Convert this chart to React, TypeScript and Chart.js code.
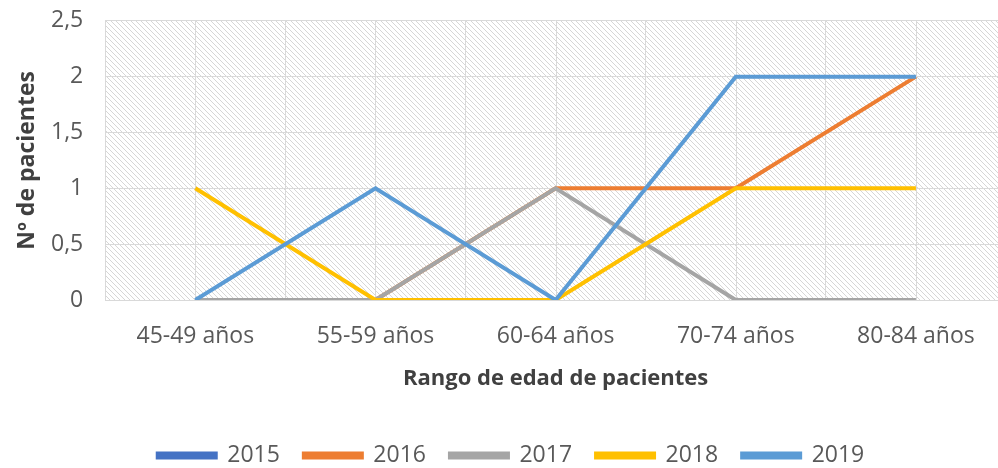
import React, { useEffect, useRef } from "react";
import { Chart, registerables } from "chart.js";

Chart.register(...registerables);

const categories = ["45-49 años", "55-59 años", "60-64 años", "70-74 años", "80-84 años"];
const series2015: (number | null)[] = [null, null, null, null, null];
const series2016 = [0, 0, 1, 1, 2];
const series2017 = [0, 0, 1, 0, 0];
const series2018 = [1, 0, 0, 1, 1];
const series2019 = [0, 1, 0, 2, 2];
const seriesNames = ["2015", "2016", "2017", "2018", "2019"];
const seriesColors = ["#4472C4", "#ED7D31", "#A5A5A5", "#FFC000", "#5B9BD5"];

const FONT = "'Open Sans', 'Noto Sans', sans-serif";

function makePattern(ctx: CanvasRenderingContext2D) {
  const c = document.createElement("canvas");
  c.width = 5;
  c.height = 5;
  const p = c.getContext("2d")!;
  p.fillStyle = "#ffffff";
  p.fillRect(0, 0, 5, 5);
  p.strokeStyle = "#d6d6d6";
  p.lineWidth = 1;
  p.beginPath();
  p.moveTo(-1, -1);
  p.lineTo(6, 6);
  p.moveTo(-1, 4);
  p.lineTo(1, 6);
  p.moveTo(4, -1);
  p.lineTo(6, 1);
  p.stroke();
  return ctx.createPattern(c, "repeat");
}

const backgroundPlugin = {
  id: "hatchBg",
  beforeDraw(chart: any) {
    const { ctx, chartArea, scales } = chart;
    ctx.save();
    const pat = makePattern(ctx);
    if (pat) {
      ctx.fillStyle = pat;
      ctx.fillRect(chartArea.left, chartArea.top, chartArea.right - chartArea.left, chartArea.bottom - chartArea.top);
    }
    ctx.strokeStyle = "#d9d9d9";
    ctx.lineWidth = 1;
    const xs = scales.x;
    for (let i = 0; i < categories.length; i++) {
      const px = Math.round(xs.getPixelForValue(i)) + 0.5;
      ctx.beginPath();
      ctx.moveTo(px, chartArea.top);
      ctx.lineTo(px, chartArea.bottom);
      ctx.stroke();
    }
    ctx.restore();
  },
};

const CANVAS_W = 1016;
const CANVAS_H = 487;
const CANVAS_TOP = -15;

export default function App() {
  const ref = useRef<HTMLCanvasElement>(null);
  useEffect(() => {
    const data = [series2015, series2016, series2017, series2018, series2019];
    const chart = new Chart(ref.current!, {
      type: "line",
      data: {
        labels: categories,
        datasets: data.map((d, i) => ({
          label: seriesNames[i],
          data: d,
          order: data.length - 1 - i,
          borderColor: seriesColors[i],
          backgroundColor: seriesColors[i],
          borderWidth: 4,
          pointRadius: 0,
          tension: 0,
        })),
      },
      options: {
        responsive: false,
        animation: false,
        layout: { padding: { top: 0, right: 10, left: 16, bottom: -5 } },
        plugins: {
          tooltip: { enabled: false },
          legend: {
            position: "bottom",
            labels: {
              boxWidth: 58,
              boxHeight: 4,
              padding: 24,
              color: "#595959",
              font: { family: FONT, size: 23 },
              sort: (a: any, b: any) => a.datasetIndex - b.datasetIndex,
            },
          },
        },
        scales: {
          x: {
            offset: true,
            grid: { offset: true, color: "#d9d9d9", drawTicks: false },
            border: { color: "#d9d9d9" },
            ticks: { color: "#595959", font: { family: FONT, size: 23 }, padding: 23 },
            title: {
              display: true,
              text: "Rango de edad de pacientes",
              color: "#404040",
              font: { family: FONT, size: 22, weight: "bold" },
              padding: { top: -8, bottom: 28 },
            },
          },
          y: {
            min: 0,
            max: 2.5,
            grid: { color: "#d9d9d9", drawTicks: false },
            border: { display: false },
            ticks: {
              stepSize: 0.5,
              color: "#595959",
              font: { family: FONT, size: 23 },
              padding: 22,
              callback: (v: any) => String(v).replace(".", ","),
            },
            title: {
              display: true,
              text: "Nº de pacientes",
              color: "#404040",
              font: { family: FONT, size: 23, weight: "bold", lineHeight: 1 },
              padding: { top: 0, bottom: -10 },
            },
          },
        },
      },
      plugins: [backgroundPlugin],
    });
    return () => chart.destroy();
  }, []);
  return (
    <div style={{ position: "fixed", left: 0, top: CANVAS_TOP, width: CANVAS_W, height: CANVAS_H, background: "#fff" }}>
      <canvas ref={ref} width={CANVAS_W} height={CANVAS_H} />
    </div>
  );
}
